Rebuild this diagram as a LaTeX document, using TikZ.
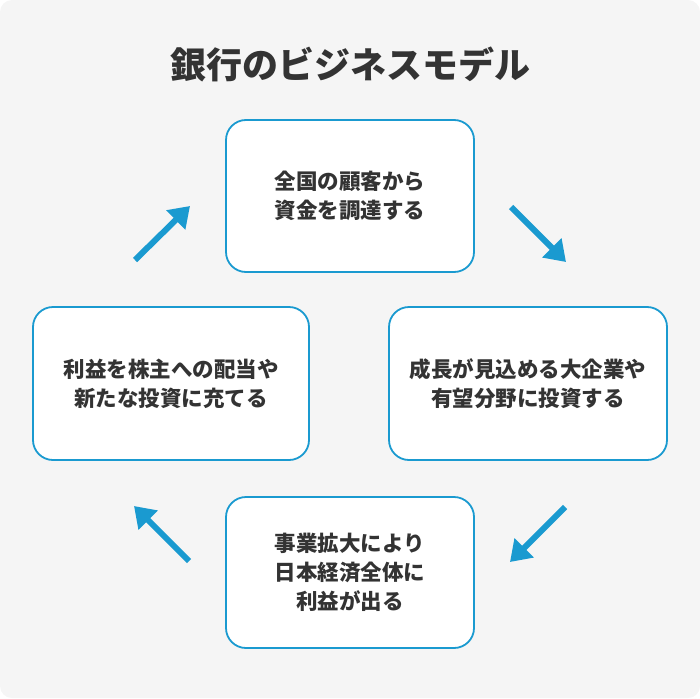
\documentclass[tikz,border=0pt]{standalone}
\usepackage{fontspec}
\setmainfont{Noto Sans CJK JP}
\usetikzlibrary{arrows.meta}
\definecolor{bg}{HTML}{F5F5F5}
\definecolor{blu}{HTML}{1A9AD0}
\definecolor{txt}{HTML}{333333}
\begin{document}
\begin{tikzpicture}[x=1pt,y=-1pt,
 box/.style={draw=blu,line width=1.8pt,fill=white,rounded corners=20pt,align=center,font=\bfseries\fontsize{21.5}{29}\selectfont,text=txt},
 arr/.style={draw=blu,line width=6pt,-{Triangle[length=20pt,width=26pt]}}]
\fill[bg,rounded corners=12pt] (0,0) rectangle (700,698);
\useasboundingbox (0,0) rectangle (700,698);
\node[text=txt,font=\bfseries\fontsize{36}{40}\selectfont] (title) at (350,64) {銀行のビジネスモデル};
\node[box,minimum width=248pt,minimum height=152pt] (top) at (350,196) {全国の顧客から\\資金を調達する};
\node[box,minimum width=276pt,minimum height=153pt] (left) at (171,383.5) {利益を株主への配当や\\新たな投資に充てる};
\node[box,minimum width=278pt,minimum height=153pt] (right) at (528,383.5) {成長が見込める大企業や\\有望分野に投資する};
\node[box,minimum width=248pt,minimum height=151pt] (bot) at (350,572.5) {事業拡大により\\日本経済全体に\\利益が出る};
\coordinate (a1) at (135,260); \coordinate (b1) at (190,206);
\coordinate (a2) at (511,207); \coordinate (b2) at (566,262);
\coordinate (a3) at (565,507); \coordinate (b3) at (510,562);
\coordinate (a4) at (189,561); \coordinate (b4) at (134,506);
\draw[arr] (a1) -- (b1);
\draw[arr] (a2) -- (b2);
\draw[arr] (a3) -- (b3);
\draw[arr] (a4) -- (b4);
\end{tikzpicture}
\end{document}
